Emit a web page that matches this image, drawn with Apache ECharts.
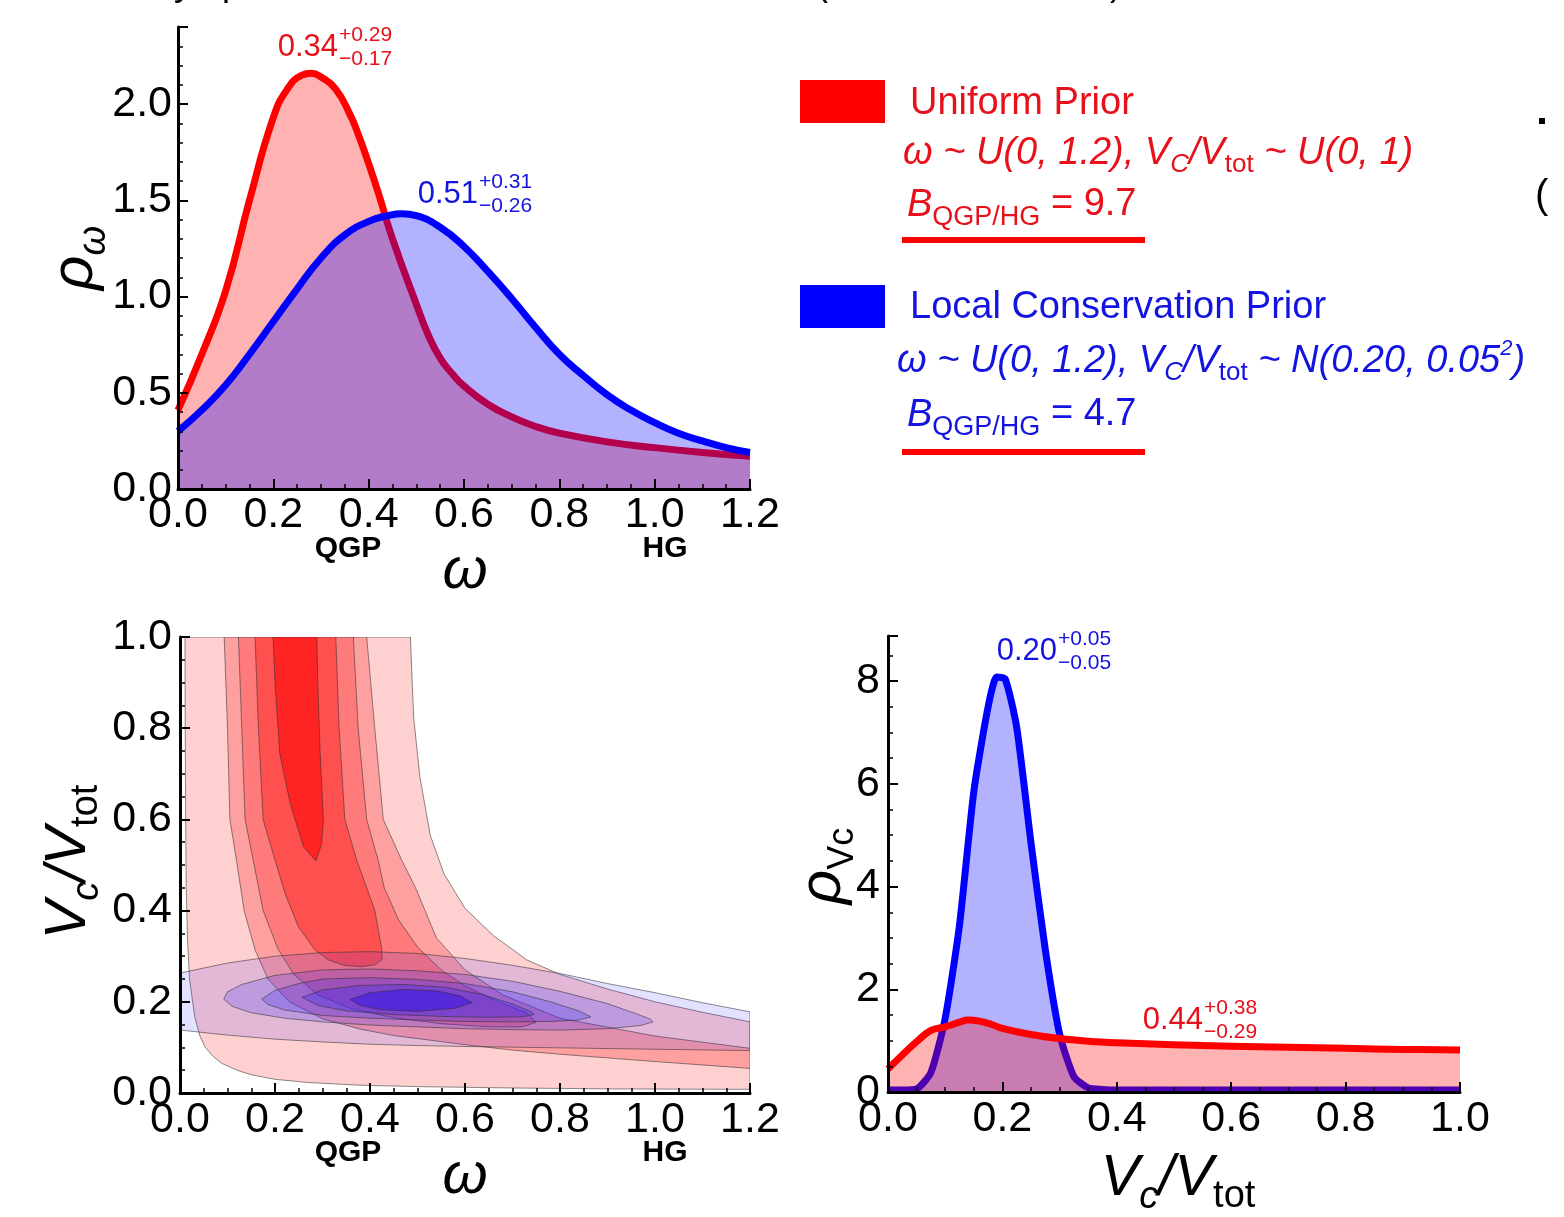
<!DOCTYPE html>
<html>
<head>
<meta charset="utf-8">
<script src="https://cdn.jsdelivr.net/npm/echarts@6/dist/echarts.min.js"></script>
<style>
  html, body { margin: 0; padding: 0; background: #ffffff; }
  #chart { width: 1564px; height: 1217px; }
</style>
</head>
<body>
<div id="chart"></div>
<script>
// ---------------- data ----------------
// marginal posterior of omega
const OMEGA_GRID_UNIFORM = [0, 0.05, 0.1, 0.15, 0.2, 0.23, 0.26, 0.28, 0.3, 0.33, 0.36, 0.38, 0.4, 0.42,
  0.45, 0.5, 0.525, 0.55, 0.575, 0.6, 0.65, 0.7, 0.75, 0.8, 0.9, 1.0, 1.1, 1.2];
const RHO_OMEGA_UNIFORM = [0.41, 0.7, 1.03, 1.5, 1.93, 2.08, 2.15, 2.16, 2.14, 2.08, 1.95, 1.83, 1.69, 1.54,
  1.30, 0.96, 0.8, 0.68, 0.6, 0.535, 0.44, 0.375, 0.325, 0.29, 0.245, 0.215, 0.19, 0.17];
const OMEGA_GRID_LOCAL = [0, 0.05, 0.1, 0.15, 0.2, 0.25, 0.3, 0.35, 0.4, 0.44, 0.47, 0.5, 0.55, 0.6,
  0.65, 0.7, 0.75, 0.8, 0.85, 0.9, 0.95, 1.0, 1.05, 1.1, 1.15, 1.2];
const RHO_OMEGA_LOCAL = [0.30, 0.41, 0.54, 0.70, 0.87, 1.04, 1.20, 1.32, 1.39, 1.42, 1.43, 1.42, 1.36, 1.26,
  1.13, 0.99, 0.84, 0.70, 0.59, 0.49, 0.41, 0.345, 0.29, 0.25, 0.215, 0.19];

// marginal posterior of Vc/Vtot
const VC_GRID_LOCAL = [0, 0.025, 0.05, 0.075, 0.1, 0.125, 0.15, 0.175, 0.19, 0.205, 0.225, 0.25, 0.275,
  0.3, 0.325, 0.35, 0.375, 0.4, 0.5, 0.6, 0.7, 0.8, 0.9, 1.0];
const RHO_VC_LOCAL = [0.04, 0.04, 0.06, 0.38, 1.44, 3.25, 5.85, 7.5, 8.08, 8.04, 7.1, 4.85, 2.77,
  1.13, 0.3, 0.08, 0.05, 0.04, 0.04, 0.04, 0.04, 0.04, 0.04, 0.04];
const VC_GRID_UNIFORM = [0, 0.025, 0.05, 0.075, 0.1, 0.125, 0.14, 0.16, 0.18, 0.2, 0.25, 0.3, 0.35, 0.4,
  0.5, 0.6, 0.7, 0.8, 0.9, 1.0];
const RHO_VC_UNIFORM = [0.45, 0.72, 0.98, 1.2, 1.27, 1.36, 1.40, 1.38, 1.32, 1.24, 1.12, 1.04, 0.99, 0.96,
  0.92, 0.89, 0.87, 0.85, 0.83, 0.82];

// posterior medians with upper / lower errors
const OMEGA_MEDIAN = [0.34, 0.51];      // [uniform, local conservation]
const OMEGA_ERR_UP = [0.29, 0.31];
const OMEGA_ERR_DOWN = [0.17, 0.26];
const VC_MEDIAN = [0.44, 0.20];
const VC_ERR_UP = [0.38, 0.05];
const VC_ERR_DOWN = [0.29, 0.05];

// joint posterior credible regions in (omega, Vc/Vtot), outermost first
const UNIFORM_REGIONS = [
  [[0.0105, 1.0], [0.011, 0.8], [0.012, 0.6], [0.013, 0.45], [0.016, 0.33], [0.02, 0.25], [0.031, 0.167],
   [0.042, 0.125], [0.053, 0.10], [0.07, 0.08], [0.088, 0.065], [0.12, 0.05], [0.15, 0.04], [0.2, 0.03],
   [0.27, 0.023], [0.38, 0.017], [0.5, 0.014], [0.7, 0.011], [0.9, 0.009], [1.2, 0.008], [1.2, 0.156],
   [1.1, 0.177], [1.0, 0.2], [0.9, 0.228], [0.8, 0.26], [0.73, 0.292], [0.66, 0.345], [0.6, 0.405],
   [0.556, 0.48], [0.527, 0.565], [0.505, 0.693], [0.492, 0.823], [0.485, 1.0]],
  [[0.093, 1.0], [0.1, 0.8], [0.105, 0.6], [0.119, 0.51], [0.135, 0.4], [0.158, 0.314], [0.185, 0.25],
   [0.23, 0.2], [0.3, 0.163], [0.38, 0.14], [0.45, 0.126], [0.6, 0.106], [0.7, 0.094], [0.8, 0.085],
   [1.0, 0.069], [1.2, 0.054], [1.2, 0.098], [1.0, 0.125], [0.8, 0.164], [0.68, 0.215], [0.6, 0.27],
   [0.54, 0.34], [0.495, 0.452], [0.467, 0.51], [0.428, 0.6], [0.41, 0.8], [0.393, 1.0]],
  [[0.123, 1.0], [0.13, 0.8], [0.137, 0.6], [0.154, 0.511], [0.175, 0.4], [0.207, 0.314], [0.24, 0.26],
   [0.29, 0.215], [0.36, 0.185], [0.45, 0.165], [0.55, 0.152], [0.65, 0.145], [0.72, 0.145], [0.75, 0.155],
   [0.73, 0.175], [0.66, 0.205], [0.6, 0.235], [0.55, 0.27], [0.5, 0.32], [0.46, 0.38], [0.43, 0.45],
   [0.417, 0.511], [0.393, 0.6], [0.375, 0.8], [0.365, 1.0]],
  [[0.158, 1.0], [0.165, 0.8], [0.175, 0.6], [0.2, 0.511], [0.221, 0.438], [0.249, 0.365], [0.284, 0.314],
   [0.312, 0.292], [0.345, 0.28], [0.382, 0.277], [0.41, 0.281], [0.425, 0.292], [0.425, 0.314],
   [0.41, 0.401], [0.372, 0.511], [0.347, 0.6], [0.335, 0.8], [0.328, 1.0]],
  [[0.196, 1.0], [0.2, 0.9], [0.21, 0.745], [0.232, 0.635], [0.26, 0.54], [0.286, 0.509], [0.298, 0.545],
   [0.302, 0.6], [0.295, 0.745], [0.29, 0.9], [0.288, 1.0]]
];
const LOCAL_REGIONS = [
  [[0, 0.263], [0.1, 0.285], [0.2, 0.3], [0.3, 0.308], [0.4, 0.31], [0.5, 0.306], [0.6, 0.295], [0.7, 0.28],
   [0.8, 0.262], [0.9, 0.24], [1.0, 0.22], [1.1, 0.198], [1.2, 0.178], [1.2, 0.093], [1.0, 0.096],
   [0.8, 0.099], [0.6, 0.102], [0.5, 0.104], [0.4, 0.107], [0.3, 0.112], [0.2, 0.118], [0.1, 0.127], [0, 0.138]],
  [[0.092, 0.206], [0.1, 0.222], [0.13, 0.238], [0.2, 0.258], [0.3, 0.27], [0.4, 0.272], [0.5, 0.268],
   [0.6, 0.26], [0.7, 0.245], [0.8, 0.223], [0.9, 0.196], [0.96, 0.174], [0.99, 0.162], [0.996, 0.156],
   [0.97, 0.148], [0.9, 0.141], [0.8, 0.138], [0.7, 0.139], [0.6, 0.141], [0.5, 0.145], [0.4, 0.149],
   [0.3, 0.156], [0.22, 0.164], [0.15, 0.176], [0.11, 0.19]],
  [[0.172, 0.206], [0.2, 0.225], [0.25, 0.24], [0.3, 0.25], [0.4, 0.253], [0.5, 0.249], [0.6, 0.24],
   [0.7, 0.222], [0.78, 0.2], [0.84, 0.18], [0.865, 0.167], [0.84, 0.16], [0.78, 0.157], [0.7, 0.156],
   [0.6, 0.157], [0.5, 0.16], [0.4, 0.164], [0.3, 0.17], [0.22, 0.182], [0.185, 0.194]],
  [[0.257, 0.21], [0.3, 0.226], [0.38, 0.236], [0.47, 0.238], [0.56, 0.232], [0.64, 0.215], [0.7, 0.195],
   [0.74, 0.178], [0.745, 0.172], [0.72, 0.167], [0.64, 0.166], [0.55, 0.168], [0.45, 0.172], [0.35, 0.18],
   [0.29, 0.192]],
  [[0.358, 0.205], [0.4, 0.22], [0.47, 0.227], [0.54, 0.224], [0.59, 0.213], [0.615, 0.198], [0.58, 0.186],
   [0.5, 0.179], [0.42, 0.183], [0.38, 0.192]]
];

// axis tick labels
const OMEGA_TICKS = [0, 0.2, 0.4, 0.6, 0.8, 1.0, 1.2];
const RHO_OMEGA_TICKS = [0, 0.5, 1.0, 1.5, 2.0];
const VC_TICKS = [0, 0.2, 0.4, 0.6, 0.8, 1.0];
const RHO_VC_TICKS = [0, 2, 4, 6, 8];
const PHASE_LABELS = ['QGP', 'HG'];

// ---------------- styles ----------------
const FONT = '"Liberation Sans", Arial, Helvetica, sans-serif';
const RED = '#FF0000';
const BLUE = '#0000FF';
const RED_TEXT = '#E8101A';
const BLUE_TEXT = '#1414E0';
const RED_AREA = 'rgba(255,0,0,0.3)';
const BLUE_AREA = 'rgba(0,0,255,0.3)';
const UNIFORM_FILLS = ['#FFD0D0', '#FFA0A0', '#FF7A7A', '#FF5050', '#FF2424'];
const LOCAL_FILLS = ['rgba(50,40,255,0.14)', 'rgba(50,40,255,0.2)', 'rgba(50,40,255,0.23)',
  'rgba(50,35,250,0.3)', 'rgba(55,20,230,0.55)'];
const CONTOUR_STROKE = 'rgba(45,45,45,0.55)';

function tickFormatter(ticks, digits) {
  return function (v) {
    for (const t of ticks) {
      if (Math.abs(v - t) < 1e-9) return t.toFixed(digits);
    }
    return '';
  };
}

function valueAxis(gridIndex, min, max, interval, minorSplit, ticks, digits, margin) {
  return {
    type: 'value', gridIndex, min, max, interval, z: 10,
    axisLine: { show: true, onZero: false, lineStyle: { color: '#000', width: 3 } },
    axisTick: { show: true, inside: true, length: 10, lineStyle: { color: '#000', width: 2 } },
    minorTick: { show: true, splitNumber: minorSplit, length: 5, lineStyle: { color: '#000', width: 1.5 } },
    splitLine: { show: false },
    minorSplitLine: { show: false },
    axisLabel: {
      show: true, color: '#000', fontFamily: FONT, fontSize: 43, margin,
      formatter: tickFormatter(ticks, digits), showMinLabel: true, showMaxLabel: true
    }
  };
}

function pairs(xs, ys) { return xs.map((x, i) => [x, ys[i]]); }

function regionSeries(name, regions, fills, z) {
  return {
    type: 'custom', name, xAxisIndex: 1, yAxisIndex: 1, clip: true, silent: true, z,
    encode: { x: 0, y: 1 },
    data: regions.map(r => r[0]),
    renderItem: function (params, api) {
      const poly = regions[params.dataIndex];
      return {
        type: 'polygon',
        shape: { points: poly.map(p => api.coord(p)) },
        style: { fill: fills[params.dataIndex], stroke: CONTOUR_STROKE, lineWidth: 1 }
      };
    }
  };
}

// each curve gets its own z so that its fill covers the curves drawn before it
function curve(name, idx, xs, ys, color, area, smooth, z) {
  return {
    type: 'line', name, xAxisIndex: idx, yAxisIndex: idx, z,
    data: pairs(xs, ys), smooth, symbol: 'none', silent: true,
    lineStyle: { color, width: 7, join: 'round' },
    areaStyle: { color: area, opacity: 1, origin: 'start' }
  };
}

// rich text helpers
function rs(size, extra) {
  return Object.assign({ fontSize: size, fontFamily: FONT, verticalAlign: 'bottom', lineHeight: Math.round(size * 1.1) }, extra || {});
}

function estimateLabel(x, y, median, up, down, color, baseSize, scriptSize) {
  // x: junction between central value and the stacked errors, y: middle of central value
  return [
    { type: 'text', x, y, style: { text: median.toFixed(2), fill: color, fontFamily: FONT, fontSize: baseSize, align: 'right', verticalAlign: 'middle' } },
    { type: 'text', x: x + 1, y: y - 12, style: { text: '+' + up.toFixed(2), fill: color, fontFamily: FONT, fontSize: scriptSize, align: 'left', verticalAlign: 'middle' } },
    { type: 'text', x: x + 1, y: y + 12, style: { text: '\u2212' + down.toFixed(2), fill: color, fontFamily: FONT, fontSize: scriptSize, align: 'left', verticalAlign: 'middle' } }
  ];
}

const graphics = [];

// legend
graphics.push({ type: 'rect', shape: { x: 800, y: 80, width: 85, height: 43 }, style: { fill: RED } });
graphics.push({ type: 'rect', shape: { x: 800, y: 285, width: 85, height: 43 }, style: { fill: BLUE } });
graphics.push({ type: 'text', x: 910, y: 104, style: { text: 'Uniform Prior', fill: RED_TEXT, fontFamily: FONT, fontSize: 38, verticalAlign: 'middle' } });
graphics.push({ type: 'text', x: 910, y: 308, style: { text: 'Local Conservation Prior', fill: BLUE_TEXT, fontFamily: FONT, fontSize: 38, verticalAlign: 'middle' } });

const priorRich = {
  it: rs(38, { fontStyle: 'italic', padding: [0, 0, 6, 0] }),
  isub: rs(26, { fontStyle: 'italic' }),
  sub: rs(26),
  isup: rs(22, { fontStyle: 'italic', padding: [0, 0, 26, 0] })
};
graphics.push({
  type: 'text', x: 903, y: 157,
  style: {
    text: '{it|\u03C9 ~ U(0, 1.2), V}{isub|C}{it|/V}{sub|tot}{it| ~ U(0, 1)}',
    fill: RED_TEXT, verticalAlign: 'middle', rich: priorRich
  }
});
graphics.push({
  type: 'text', x: 897, y: 365,
  style: {
    text: '{it|\u03C9 ~ U(0, 1.2), V}{isub|C}{it|/V}{sub|tot}{it| ~ N(0.20, 0.05}{isup|2}{it|)}',
    fill: BLUE_TEXT, verticalAlign: 'middle', rich: priorRich
  }
});

function bayesLine(x, y, value, color) {
  return {
    type: 'text', x, y,
    style: {
      text: '{it|B}{sub|QGP/HG}{up| = ' + value + '}',
      fill: color, verticalAlign: 'middle',
      rich: {
        it: rs(38, { fontStyle: 'italic', padding: [0, 0, 7, 0] }),
        sub: rs(27),
        up: rs(38, { padding: [0, 0, 7, 0] })
      }
    }
  };
}
graphics.push(bayesLine(907, 210, '9.7', RED_TEXT));
graphics.push(bayesLine(907, 420, '4.7', BLUE_TEXT));
graphics.push({ type: 'rect', shape: { x: 902, y: 237, width: 243, height: 6 }, style: { fill: RED } });
graphics.push({ type: 'rect', shape: { x: 902, y: 449, width: 243, height: 6 }, style: { fill: RED } });

// axis titles
const titleRich = {
  big: rs(58, { fontStyle: 'italic', padding: [0, 0, 8, 0] }),
  isub: rs(38, { fontStyle: 'italic' }),
  sub: rs(38)
};
graphics.push({ type: 'text', x: 465, y: 572, style: { text: '\u03C9', fill: '#000', fontFamily: FONT, fontSize: 58, fontStyle: 'italic', align: 'center', verticalAlign: 'middle' } });
graphics.push({ type: 'text', x: 465, y: 1177, style: { text: '\u03C9', fill: '#000', fontFamily: FONT, fontSize: 58, fontStyle: 'italic', align: 'center', verticalAlign: 'middle' } });
graphics.push({ type: 'text', x: 1178, y: 1184, style: { text: '{big|V}{isub|c}{big|/V}{sub|tot}', fill: '#000', align: 'center', verticalAlign: 'middle', rich: titleRich } });
graphics.push({ type: 'text', x: 74, y: 862, rotation: Math.PI / 2, style: { text: '{big|V}{isub|c}{big|/V}{sub|tot}', fill: '#000', align: 'center', verticalAlign: 'middle', rich: titleRich } });
graphics.push({
  type: 'text', x: 80, y: 258, rotation: Math.PI / 2,
  style: {
    text: '{big|\u03C1}{isub|\u03C9}', fill: '#000', align: 'center', verticalAlign: 'middle',
    rich: { big: rs(60, { fontStyle: 'italic', padding: [0, 0, 8, 0] }), isub: rs(38, { fontStyle: 'italic' }) }
  }
});
graphics.push({
  type: 'text', x: 828, y: 866, rotation: Math.PI / 2,
  style: {
    text: '{big|\u03C1}{sub|Vc}', fill: '#000', align: 'center', verticalAlign: 'middle',
    rich: { big: rs(60, { fontStyle: 'italic', padding: [0, 0, 8, 0] }), sub: rs(36) }
  }
});

// phase labels under the omega axes
[549, 1153].forEach(y => {
  graphics.push({ type: 'text', x: 348, y, style: { text: PHASE_LABELS[0], fill: '#000', fontFamily: FONT, fontWeight: 'bold', fontSize: 30, align: 'center', verticalAlign: 'middle' } });
  graphics.push({ type: 'text', x: 665, y, style: { text: PHASE_LABELS[1], fill: '#000', fontFamily: FONT, fontWeight: 'bold', fontSize: 30, align: 'center', verticalAlign: 'middle' } });
});

// median estimates
graphics.push(...estimateLabel(338, 47, OMEGA_MEDIAN[0], OMEGA_ERR_UP[0], OMEGA_ERR_DOWN[0], RED_TEXT, 31, 21));
graphics.push(...estimateLabel(478, 194, OMEGA_MEDIAN[1], OMEGA_ERR_UP[1], OMEGA_ERR_DOWN[1], BLUE_TEXT, 31, 21));
graphics.push(...estimateLabel(1057, 651, VC_MEDIAN[1], VC_ERR_UP[1], VC_ERR_DOWN[1], BLUE_TEXT, 31, 21));
graphics.push(...estimateLabel(1203, 1020, VC_MEDIAN[0], VC_ERR_UP[0], VC_ERR_DOWN[0], RED_TEXT, 31, 21));

// clipped text at the page edges
graphics.push({ type: 'text', x: 174, y: 3, style: { text: 'y', fill: '#000', fontFamily: FONT, fontSize: 36, verticalAlign: 'bottom' } });
graphics.push({ type: 'text', x: 222, y: 3, style: { text: 'p', fill: '#000', fontFamily: FONT, fontSize: 36, verticalAlign: 'bottom' } });
graphics.push({ type: 'text', x: 816, y: 3, style: { text: '(', fill: '#000', fontFamily: FONT, fontSize: 36, verticalAlign: 'bottom' } });
graphics.push({ type: 'text', x: 1110, y: 3, style: { text: ')', fill: '#000', fontFamily: FONT, fontSize: 36, verticalAlign: 'bottom' } });
graphics.push({ type: 'rect', shape: { x: 1539, y: 118, width: 6, height: 6 }, style: { fill: '#000' } });
graphics.push({ type: 'text', x: 1535, y: 197, style: { text: '(', fill: '#000', fontFamily: FONT, fontSize: 40, verticalAlign: 'middle' } });

const option = {
  backgroundColor: '#ffffff',
  animation: false,
  grid: [
    { left: 178, top: 27, width: 572, height: 462, outerBoundsMode: 'none', containLabel: false },
    { left: 180, top: 637, width: 570, height: 456, outerBoundsMode: 'none', containLabel: false },
    { left: 888, top: 636, width: 572, height: 456, outerBoundsMode: 'none', containLabel: false }
  ],
  xAxis: [
    valueAxis(0, 0, 1.2, 0.2, 4, OMEGA_TICKS, 1, 5),
    valueAxis(1, 0, 1.2, 0.2, 4, OMEGA_TICKS, 1, 6),
    valueAxis(2, 0, 1.0, 0.2, 4, VC_TICKS, 1, 6)
  ],
  yAxis: [
    valueAxis(0, 0, 2.4, 0.5, 5, RHO_OMEGA_TICKS, 1, 6),
    valueAxis(1, 0, 1.0, 0.2, 4, VC_TICKS, 1, 8),
    valueAxis(2, 0, 8.88, 2, 4, RHO_VC_TICKS, 0, 8)
  ],
  series: [
    curve('uniform-omega', 0, OMEGA_GRID_UNIFORM, RHO_OMEGA_UNIFORM, RED, RED_AREA, 0.5, 2),
    curve('local-omega', 0, OMEGA_GRID_LOCAL, RHO_OMEGA_LOCAL, BLUE, BLUE_AREA, 0.5, 3),
    regionSeries('uniform-joint', UNIFORM_REGIONS, UNIFORM_FILLS, 2),
    regionSeries('local-joint', LOCAL_REGIONS, LOCAL_FILLS, 3),
    curve('local-vc', 2, VC_GRID_LOCAL, RHO_VC_LOCAL, BLUE, BLUE_AREA, 0.2, 2),
    curve('uniform-vc', 2, VC_GRID_UNIFORM, RHO_VC_UNIFORM, RED, RED_AREA, 0.4, 3)
  ],
  graphic: graphics
};

const chart = echarts.init(document.getElementById('chart'));
chart.setOption(option);
</script>
</body>
</html>
